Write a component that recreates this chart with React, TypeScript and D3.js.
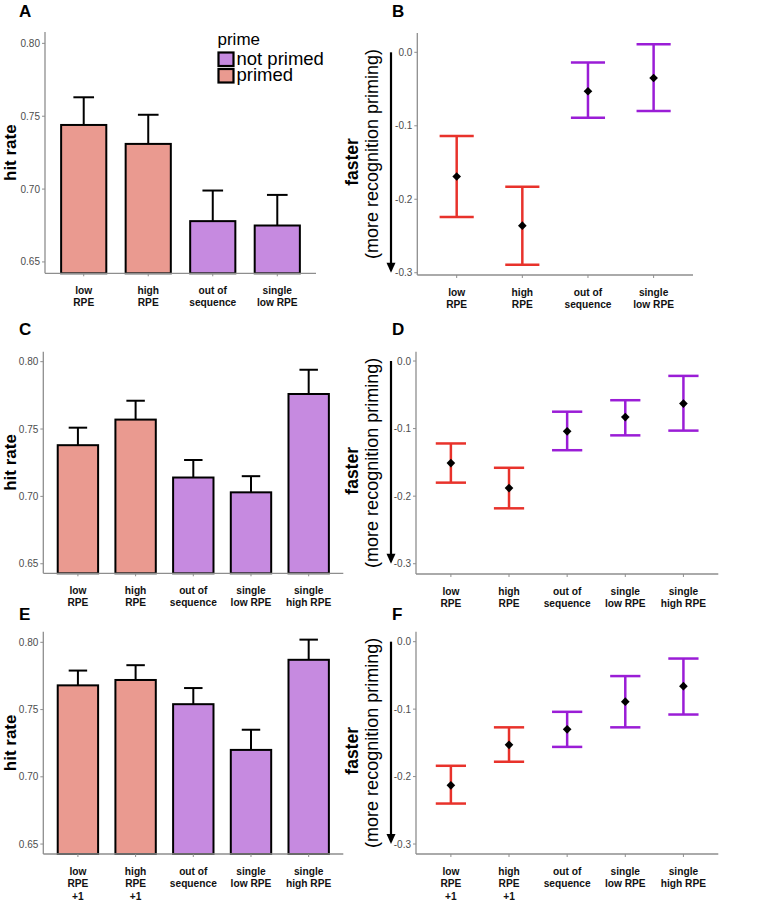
import React from "react";
import * as d3 from "d3";

const FONT = "'Liberation Sans', Arial, Helvetica, sans-serif";

// ---------- data ----------
const labels4 = ["low\nRPE", "high\nRPE", "out of\nsequence", "single\nlow RPE"];
const labels5 = ["low\nRPE", "high\nRPE", "out of\nsequence", "single\nlow RPE", "single\nhigh RPE"];
const labelsE = ["low\nRPE\n+1", "high\nRPE\n+1", "out of\nsequence", "single\nlow RPE", "single\nhigh RPE"];

const prime4 = ["primed", "primed", "not primed", "not primed"];
const prime5 = ["primed", "primed", "not primed", "not primed", "not primed"];

const hitTicks = [0.65, 0.7, 0.75, 0.8];
const rtTicks = [-0.3, -0.2, -0.1, 0.0];

const A_mean = [0.744, 0.731, 0.678, 0.675];
const A_upper = [0.763, 0.751, 0.699, 0.696];

const B_mean = [-0.169, -0.236, -0.053, -0.035];
const B_lower = [-0.224, -0.289, -0.089, -0.08];
const B_upper = [-0.114, -0.183, -0.014, 0.011];

const C_mean = [0.738, 0.757, 0.714, 0.703, 0.776];
const C_upper = [0.751, 0.771, 0.727, 0.715, 0.794];

const D_mean = [-0.151, -0.188, -0.104, -0.083, -0.063];
const D_lower = [-0.18, -0.218, -0.132, -0.11, -0.103];
const D_upper = [-0.122, -0.158, -0.075, -0.058, -0.022];

const E_mean = [0.768, 0.772, 0.754, 0.72, 0.787];
const E_upper = [0.779, 0.783, 0.766, 0.735, 0.802];

const F_mean = [-0.213, -0.153, -0.13, -0.089, -0.066];
const F_lower = [-0.24, -0.178, -0.156, -0.127, -0.108];
const F_upper = [-0.184, -0.127, -0.104, -0.051, -0.025];

const legendItems = ["not primed", "primed"];

// ---------- styles ----------
const fillColor: Record<string, string> = { primed: "#EA9A90", "not primed": "#C68AE0" };
const errColor: Record<string, string> = { primed: "#E8322B", "not primed": "#9A1DD6" };
const AXIS = "#8e8e8e";
const TICKTXT = "#4d4d4d";

const hyphenLocale = d3.formatLocale({ decimal: ".", thousands: ",", grouping: [3], currency: ["", ""], minus: "-" });

type Box = { left: number; right: number; top: number; bottom: number; yDomain: [number, number] };

function XAxis({ x, cats, box }: { x: d3.ScalePoint<string>; cats: string[]; box: Box }) {
  return (
    <g>
      <line x1={box.left} x2={box.right} y1={box.bottom} y2={box.bottom} stroke={AXIS} strokeWidth={1.3} />
      {cats.map((c) => (
        <g key={c}>
          <line x1={x(c)} x2={x(c)} y1={box.bottom} y2={box.bottom + 3} stroke={AXIS} strokeWidth={1} />
          <text
            x={x(c)}
            y={box.bottom + 20.5}
            textAnchor="middle"
            fontFamily={FONT}
            fontWeight="bold"
            fontSize={10.2}
            fill="#111"
          >
            {c.split("\n").map((ln, i) => (
              <tspan key={i} x={x(c)} dy={i === 0 ? 0 : 12.5}>
                {ln}
              </tspan>
            ))}
          </text>
        </g>
      ))}
    </g>
  );
}

function YAxis({ y, ticks, box, fmt }: { y: d3.ScaleLinear<number, number>; ticks: number[]; box: Box; fmt: (v: number) => string }) {
  return (
    <g>
      <line x1={box.left} x2={box.left} y1={box.top} y2={box.bottom} stroke={AXIS} strokeWidth={1.3} />
      {ticks.map((t) => (
        <g key={t}>
          <line x1={box.left - 3} x2={box.left} y1={y(t)} y2={y(t)} stroke={AXIS} strokeWidth={1} />
          <text
            x={box.left - 5}
            y={y(t)}
            dy="0.35em"
            textAnchor="end"
            fontFamily={FONT}
            fontSize={10}
            fill={TICKTXT}
          >
            {fmt(t)}
          </text>
        </g>
      ))}
    </g>
  );
}

function BarPanel({ box, labels, prime, mean, upper }: { box: Box; labels: string[]; prime: string[]; mean: number[]; upper: number[] }) {
  const x = d3.scalePoint<string>().domain(labels).range([box.left, box.right]).padding(0.6);
  const y = d3.scaleLinear().domain(box.yDomain).range([box.bottom, box.top]);
  const step = x.step();
  const bw = step * 0.7;
  const ew = step * 0.32;
  const fmt = hyphenLocale.format(".2f");
  return (
    <g>
      <YAxis y={y} ticks={hitTicks} box={box} fmt={fmt} />
      {labels.map((c, i) => {
        const cx = x(c)!;
        return (
          <g key={c}>
            <line x1={cx} x2={cx} y1={y(mean[i])} y2={y(upper[i])} stroke="#000" strokeWidth={2} />
            <line x1={cx - ew / 2} x2={cx + ew / 2} y1={y(upper[i])} y2={y(upper[i])} stroke="#000" strokeWidth={2} />
            <rect
              x={cx - bw / 2}
              y={y(mean[i])}
              width={bw}
              height={box.bottom - y(mean[i])}
              fill={fillColor[prime[i]]}
              stroke="#000"
              strokeWidth={2}
            />
          </g>
        );
      })}
      <XAxis x={x} cats={labels} box={box} />
      <text
        transform={`translate(15.5,${(box.top + box.bottom) / 2}) rotate(-90)`}
        textAnchor="middle"
        fontFamily={FONT}
        fontWeight="bold"
        fontSize={17}
        fill="#000"
      >
        hit rate
      </text>
    </g>
  );
}

function PointPanel({ box, labels, prime, mean, lower, upper }: { box: Box; labels: string[]; prime: string[]; mean: number[]; lower: number[]; upper: number[] }) {
  const x = d3.scalePoint<string>().domain(labels).range([box.left, box.right]).padding(0.6);
  const y = d3.scaleLinear().domain(box.yDomain).range([box.bottom, box.top]);
  const step = x.step();
  const ew = step * 0.52;
  const fmt = hyphenLocale.format(".1f");
  const diamond = d3.symbol().type(d3.symbolDiamond2).size(48)()!;
  const arrowX = 391;
  const ay0 = y(0);
  const ay1 = y(-0.3);
  const mid = (box.top + box.bottom) / 2;
  return (
    <g>
      <YAxis y={y} ticks={rtTicks} box={box} fmt={fmt} />
      {labels.map((c, i) => {
        const cx = x(c)!;
        const col = errColor[prime[i]];
        return (
          <g key={c}>
            <line x1={cx} x2={cx} y1={y(lower[i])} y2={y(upper[i])} stroke={col} strokeWidth={2.5} />
            <line x1={cx - ew / 2} x2={cx + ew / 2} y1={y(upper[i])} y2={y(upper[i])} stroke={col} strokeWidth={2.5} />
            <line x1={cx - ew / 2} x2={cx + ew / 2} y1={y(lower[i])} y2={y(lower[i])} stroke={col} strokeWidth={2.5} />
            <path d={diamond} transform={`translate(${cx},${y(mean[i])})`} fill="#000" />
          </g>
        );
      })}
      <XAxis x={x} cats={labels} box={box} />
      <line x1={arrowX} x2={arrowX} y1={ay0} y2={ay1 - 8} stroke="#000" strokeWidth={2.2} />
      <path d={`M${arrowX - 4.5},${ay1 - 10} L${arrowX + 4.5},${ay1 - 10} L${arrowX},${ay1} Z`} fill="#000" />
      <text
        transform={`translate(357.5,${mid + 8}) rotate(-90)`}
        textAnchor="middle"
        fontFamily={FONT}
        fontWeight="bold"
        fontSize={17.5}
        fill="#000"
      >
        faster
      </text>
      <text
        transform={`translate(378,${mid}) rotate(-90)`}
        textAnchor="middle"
        fontFamily={FONT}
        fontSize={18}
        fill="#000"
      >
        (more recognition priming)
      </text>
    </g>
  );
}

function PanelLabel({ x, y, t }: { x: number; y: number; t: string }) {
  return (
    <text x={x} y={y} fontFamily={FONT} fontWeight="bold" fontSize={17} fill="#000">
      {t}
    </text>
  );
}

export default function App() {
  const boxA: Box = { left: 45, right: 316, top: 32, bottom: 273.3, yDomain: [0.6422, 0.8078] };
  const boxB: Box = { left: 417.3, right: 693, top: 33, bottom: 275, yDomain: [-0.3031, 0.0263] };
  const boxC: Box = { left: 43.3, right: 343.3, top: 351.7, bottom: 573.3, yDomain: [0.6429, 0.8074] };
  const boxD: Box = { left: 416, right: 718.3, top: 351.7, bottom: 574, yDomain: [-0.3152, 0.0138] };
  const boxE: Box = { left: 43.3, right: 343.3, top: 631.7, bottom: 854, yDomain: [0.6426, 0.8079] };
  const boxF: Box = { left: 416, right: 718.3, top: 631.7, bottom: 854, yDomain: [-0.3148, 0.0148] };

  return (
    <svg
      width={771}
      height={900}
      viewBox="0 0 771 900"
      style={{ position: "absolute", left: 0, top: 0, background: "#fff" }}
    >
      <rect width={771} height={900} fill="#fff" />
      <PanelLabel x={19} y={17} t="A" />
      <PanelLabel x={392} y={17} t="B" />
      <PanelLabel x={19} y={335} t="C" />
      <PanelLabel x={392} y={335} t="D" />
      <PanelLabel x={19} y={620} t="E" />
      <PanelLabel x={392} y={620} t="F" />

      <BarPanel box={boxA} labels={labels4} prime={prime4} mean={A_mean} upper={A_upper} />
      <PointPanel box={boxB} labels={labels4} prime={prime4} mean={B_mean} lower={B_lower} upper={B_upper} />
      <BarPanel box={boxC} labels={labels5} prime={prime5} mean={C_mean} upper={C_upper} />
      <PointPanel box={boxD} labels={labels5} prime={prime5} mean={D_mean} lower={D_lower} upper={D_upper} />
      <BarPanel box={boxE} labels={labelsE} prime={prime5} mean={E_mean} upper={E_upper} />
      <PointPanel box={boxF} labels={labelsE} prime={prime5} mean={F_mean} lower={F_lower} upper={F_upper} />

      {/* legend */}
      <g>
        <text x={217.5} y={44.5} fontFamily={FONT} fontSize={17} fill="#000">
          prime
        </text>
        {legendItems.map((it, i) => (
          <g key={it}>
            <rect x={218.5} y={52.5 + i * 16.5} width={15} height={13.5} fill={fillColor[it]} stroke="#000" strokeWidth={2.2} />
            <text x={236.5} y={64.5 + i * 16.5} fontFamily={FONT} fontSize={18.5} fill="#000">
              {it}
            </text>
          </g>
        ))}
      </g>
    </svg>
  );
}
